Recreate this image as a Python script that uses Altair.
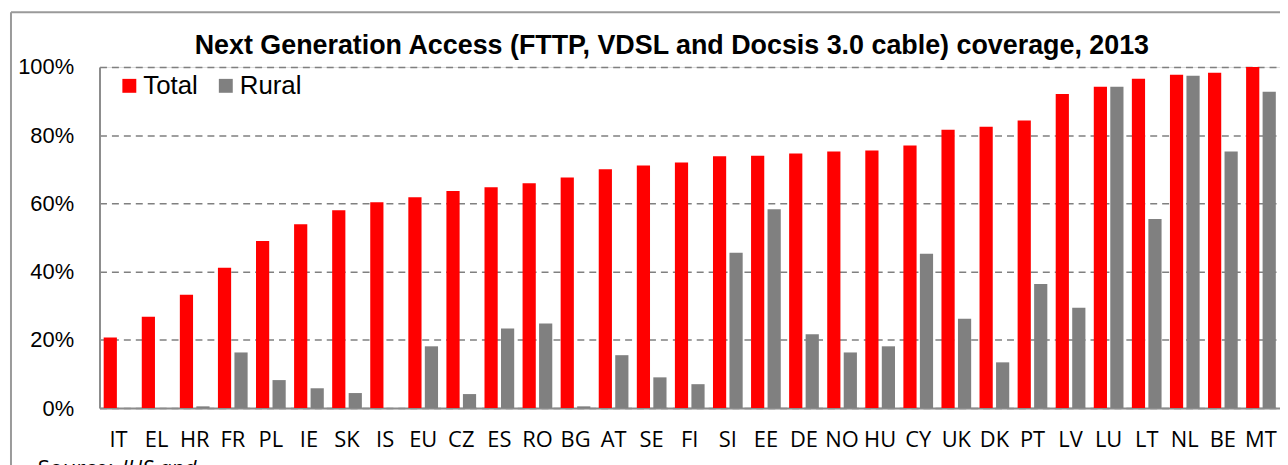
import altair as alt
import pandas as pd

countries = ["IT", "EL", "HR", "FR", "PL", "IE", "SK", "IS", "EU", "CZ", "ES", "RO", "BG",
             "AT", "SE", "FI", "SI", "EE", "DE", "NO", "HU", "CY", "UK", "DK", "PT", "LV",
             "LU", "LT", "NL", "BE", "MT"]
total = [20.7, 26.8, 33.2, 41.1, 49.0, 53.9, 58.0, 60.3, 61.8, 63.6, 64.7, 65.9, 67.6,
         70.0, 71.1, 72.0, 73.8, 74.0, 74.6, 75.2, 75.5, 77.0, 81.6, 82.5, 84.3, 92.1,
         94.2, 96.5, 97.7, 98.3, 100.0]
rural = [0.0, 0.0, 0.5, 16.3, 8.2, 5.8, 4.4, 0.0, 18.1, 4.1, 23.3, 24.8, 0.5,
         15.5, 9.0, 7.0, 45.5, 58.3, 21.6, 16.3, 18.1, 45.2, 26.2, 13.4, 36.4, 29.4,
         94.2, 55.4, 97.4, 75.2, 92.7]
series = ["Total", "Rural"]
colors = ["#FF0000", "#808080"]
title_text = "Next Generation Access (FTTP, VDSL and Docsis 3.0 cable) coverage, 2013"

rows = []
for c, t, r in zip(countries, total, rural):
    rows.append({"country": c, "series": "Total", "value": t / 100})
    rows.append({"country": c, "series": "Rural", "value": r / 100})
df = pd.DataFrame(rows)

W, H = 1187, 343

bars = alt.Chart(df).mark_bar().encode(
    x=alt.X("country:N", sort=countries,
            scale=alt.Scale(paddingInner=0.22, paddingOuter=0.11),
            axis=alt.Axis(title=None, labelAngle=0, ticks=False, labelPadding=22,
                          labelFont="Open Sans", labelFontSize=22, labelColor="#000000",
                          domainColor="#8c8c8c", domainWidth=2)),
    xOffset=alt.XOffset("series:N", sort=series, scale=alt.Scale(paddingInner=0.2)),
    y=alt.Y("value:Q", scale=alt.Scale(domain=[0, 1], nice=False),
            axis=alt.Axis(title=None, format=".0%", values=[0, 0.2, 0.4, 0.6, 0.8, 1.0],
                          ticks=False, labelPadding=26, labelFont="Liberation Sans",
                          labelFontSize=22, labelColor="#000000",
                          domainColor="#8c8c8c", domainWidth=2,
                          grid=True, gridColor="#808080", gridDash=[7, 5], gridWidth=1.5)),
    color=alt.Color("series:N", sort=series,
                    scale=alt.Scale(domain=series, range=colors),
                    legend=alt.Legend(title=None, orient="none", legendX=17, legendY=6,
                                      direction="horizontal", symbolType="square",
                                      symbolSize=196, symbolStrokeWidth=0,
                                      labelFont="Liberation Sans", labelFontSize=26,
                                      labelColor="#000000", labelOffset=1,
                                      columnPadding=15, padding=0)),
)

one = pd.DataFrame({"a": [0]})
border_top = alt.Chart(one).mark_rule(color="#9a9a9a", strokeWidth=2).encode(
    x=alt.value(-89), x2=alt.value(W + 20), y=alt.value(-55))
border_left = alt.Chart(one).mark_rule(color="#9a9a9a", strokeWidth=2).encode(
    x=alt.value(-89), y=alt.value(-55), y2=alt.value(H + 80))

src1 = alt.Chart(one).mark_text(align="left", baseline="alphabetic", font="Open Sans",
                                fontSize=22, color="#000000").encode(
    x=alt.value(-62), y=alt.value(H + 68), text=alt.value("Source:"))
src2 = alt.Chart(one).mark_text(align="left", baseline="alphabetic", font="Open Sans",
                                fontSize=22, fontStyle="italic", color="#000000").encode(
    x=alt.value(22), y=alt.value(H + 68), text=alt.value("IHS and"))

chart = alt.layer(bars, border_top, border_left, src1, src2).properties(
    width=W, height=H,
    title=alt.TitleParams(title_text, font="Liberation Sans", fontSize=27,
                          fontWeight="bold", color="#000000", anchor="middle",
                          dx=-18, dy=51, offset=2),
    autosize=alt.AutoSizeParams(type="none"),
    padding={"left": 92, "top": 58, "right": 0, "bottom": 56},
).configure_view(stroke=None).configure(background="white")

chart.save("out.html", embed_options={"renderer": "svg", "actions": False})
